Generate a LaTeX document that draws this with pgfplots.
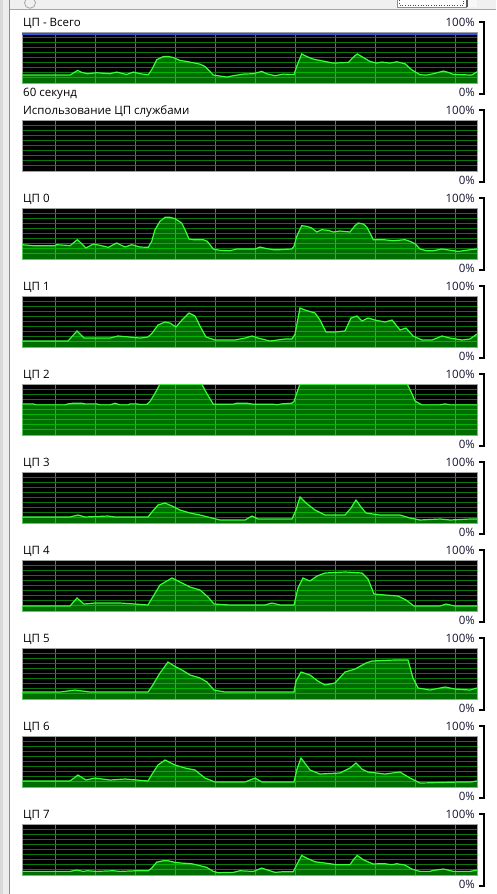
\documentclass[border=0pt]{standalone}
\usepackage{pgfplots}
\pgfplotsset{compat=1.18}
\usepackage{pgfplotstable}
\usepackage{fontspec}
\setmainfont{Open Sans}
\definecolor{gridh}{RGB}{10,120,10}
\definecolor{gridv}{RGB}{22,165,22}
\definecolor{fillg}{RGB}{0,255,0}
\definecolor{lineg}{RGB}{55,255,55}
\definecolor{frame}{RGB}{160,160,160}
\definecolor{blueline}{RGB}{50,85,220}
\definecolor{pctc}{RGB}{20,20,50}

\pgfplotstableread{
x y
22 15.6
70 15.6
77.7 24.7
81.7 20.8
87.3 18.2
96.7 20.1
110 18.2
116.7 21.4
123.3 18.2
126.7 16.9
133.3 21.4
140 18.2
148.3 16.2
151.7 26
156.7 45.5
163.3 51.9
168.3 51.9
173.3 50
180 44.2
186.7 42.2
200 37
205 32.5
208.3 26
213.3 15.6
226.7 11.7
233.3 14.3
243.3 17.5
253.3 18.2
261.7 22.7
266.7 18.2
275 14.3
283.3 17.5
290 16.9
294 16.9
296.7 32.5
301.7 57.1
306.7 51.9
313.3 46.8
320 44.2
333.3 39
348.3 40.3
353.3 50.6
357.3 57.1
363.3 50
370 42.2
376.7 39
381.7 41
390 39
396.7 41.6
405 37.7
411.7 26
420 16.2
426.7 15.6
433.3 18.2
443.3 23.4
448.3 20.8
453.3 16.9
471.7 15.6
477 22
}\ttotal

\pgfplotstableread{
x y
22 28.1
33.3 26.1
55 26.1
56.7 28.1
66.7 26.8
70 26.1
77.3 37.9
81.7 30.1
86 21.6
93.3 29.4
100 26.8
108.3 22.9
116.7 31.4
125 23.5
131.7 28.1
140 23.5
148.3 22.9
151.7 34.6
155 57.5
160 73.9
165 81.7
170 81.7
175 79.1
181.7 70.6
185 57.5
189 39.2
193.3 37.9
203.3 37.9
207.3 34.6
213.3 19.6
220 17
230 16.3
236.7 19.6
255 19.6
260 23.5
266.7 20.3
273.3 18.3
280 18.3
291.7 19.6
294 24.8
296.7 44.4
301.7 65.4
306.7 64
311.7 60.8
316.7 52.9
321.7 57.5
328.3 56.2
333.3 52.9
340 54.9
350 52.9
355 65.4
358.3 70.6
363.3 68.6
366.7 62.7
370 51
373.3 37.9
383.3 37.9
393.3 35.9
405 37.9
410 34.6
415 30.1
420 19.6
426.7 16.3
433.3 16.3
441.7 19.6
446.7 18.3
453.3 16.3
458.3 15
463.3 16.3
470 18.3
477 19.6
}\tcpua

\pgfplotstableread{
x y
22 11.8
68 11.8
77 31.4
84 17.6
110 17.6
118 21.6
140 17.6
148 19.6
152 27
158 43.1
165 49
170 47
176 39.2
182 52.9
189 66.7
195 60.8
200 41
206 19.6
215 13.7
235 13.7
245 17.6
252 21.6
258 17.6
270 11.8
285 15.7
292 15.7
295 25
300 76.5
305 72.5
315 66.7
320 52.9
326 29.4
335 29.4
345 31.4
351 56.9
357 60.8
362 51
368 56.9
375 52.9
385 49
392 52.9
400 33.3
406 37.3
413 21.6
422 13.7
432 13.7
442 21.6
450 17.6
462 13.7
470 15.7
477 25.5
}\tcpub

\pgfplotstableread{
x y
22 61
33.3 61
36 59.1
65 59.1
68 61
73.3 62.3
81.7 62.3
85 61
96.7 61
100 59.1
110 59.1
115 62.3
120 59.1
128.3 59.1
130 61
136.7 61
140 59.7
146.7 59.7
150 65.6
155 81.8
160 100
201.7 100
206.7 81.8
213.3 60.4
233.3 60.4
236.7 62.3
246.7 62.3
253.3 60.4
273.3 60.4
276.7 59.1
281.7 61
291.7 62.3
294 65.6
296.7 81.8
300 100
407.3 100
411.7 81.8
415 66.9
421.7 59.1
440 59.1
445 61
450 59.1
477 59.1
}\tcpuc

\pgfplotstableread{
x y
22 11.8
70 11.8
78 15.7
85 11.8
108 13.7
115 11.8
148 11.8
152 21.6
158 35.3
165 39.2
172 33.3
180 25.5
190 19.6
200 15.7
212 9.8
220 5.9
245 5.9
252 13.7
258 7.8
292 7.8
296 25.5
300 51
306 39.2
315 25.5
325 15.7
345 15.7
351 29.4
356 45.1
361 31.4
366 19.6
380 15.7
400 15.7
410 9.8
420 5.9
440 7.8
450 5.9
470 7.8
477 7.8
}\tcpud

\pgfplotstableread{
x y
22 9.8
70 9.8
77 25.5
84 13.7
95 15.7
120 15.7
135 13.7
148 11.8
152 25
160 51
172 64.7
180 56.9
190 47
200 41.2
208 27.5
214 13.7
230 11.8
265 11.8
272 15.7
280 11.8
294 11.8
298 45
303 64.7
310 58.8
317 68.6
325 74.5
345 76.5
362 74.5
368 62.7
374 33.3
385 31.4
398 29.4
406 21.6
414 9.8
440 9.8
446 13.7
455 9.8
477 9.8
}\tcpue

\pgfplotstableread{
x y
22 13.7
60 13.7
75 17.6
90 13.7
148 13.7
152 25
160 51
168 72.5
176 62.7
182 56.9
190 47.1
200 41.2
207 33.3
214 17.6
225 13.7
294 13.7
296 35
301 52.9
310 47.1
318 35
325 27.5
335 31.4
345 52.9
355 58.8
366 70.6
372 74.5
395 76.5
408 76.5
413 41
418 21.6
430 17.6
445 23.5
455 19.6
470 17.6
477 21.6
}\tcpuf

\pgfplotstableread{
x y
22 11.8
70 11.8
78 23.5
86 13.7
95 17.6
110 13.7
125 15.7
148 11.8
152 25
158 43.1
165 52.9
175 43.1
185 37.3
195 33.3
205 17.6
215 9.8
245 9.8
255 17.6
262 9.8
294 9.8
297 35
301 56.9
310 33.3
320 25.5
340 27.5
350 37.3
356 47.1
362 35
368 29.4
385 25.5
400 29.4
410 17.6
420 7.8
460 9.8
470 9.8
477 11.8
}\tcpug

\pgfplotstableread{
x y
22 7.1
70 7.1
76.7 9.7
83.3 7.1
87.3 8.4
96.7 7.1
113.3 8.4
120 7.1
136.7 8.4
148.3 8.4
151.7 13.6
156.7 25.3
163.3 27.9
168.3 27.9
175 24.7
181.7 23.4
191.7 22.1
200 18.2
206.7 14.9
213.3 7.1
218.3 4.5
233.3 5.2
240 8.4
253.3 7.1
261.7 13.6
266.7 10.4
275 5.2
283.3 6.5
293.3 6.5
296.7 20.1
301.7 38.3
306.7 33.1
315 26
330 22.1
336.7 20.1
350 20.1
353.3 29.9
357.3 38.3
363.3 29.9
373.3 21.4
378.3 22.1
385 22.1
391.7 20.1
396.7 22.1
405 19.5
411.7 11.7
420 7.1
430 7.1
433.3 9.1
443.3 11.7
448.3 9.7
453.3 7.1
470 7.1
477 9.7
}\tcpuh

\pgfplotsset{
  panel/.style={
    anchor=south west,
    width=455pt, height=51pt, scale only axis,
    xmin=22, xmax=477, ymin=0, ymax=100,
    axis background/.style={fill=black},
    axis line style={draw=frame, line width=1pt},
    xtick={55.5,95.7,135.7,175.7,215.7,255.7,295.7,335.7,375.7,415.7,455.7},
    ytick={10,20,30,40,50,60,70,80,90},
    xticklabels={}, yticklabels={},
    major tick length=0pt,
    grid=major,
    x grid style={color=gridv, line width=1pt},
    y grid style={color=gridh, line width=1pt},
  },
}

\newcommand\series[1]{%
  \addplot[draw=none, fill=fillg, fill opacity=0.43] table[x=x,y=y] {#1} \closedcycle;
  \addplot[color=lineg, line width=1.2pt] table[x=x,y=y] {#1};
}

\newcommand\panel[3]{%
  \begin{axis}[panel, at={(22pt,{(-83-88*#1)*1pt})}]
    #3
  \end{axis}
  \begin{scope}[x=1pt,y=1pt]
    \node[anchor=base west, inner sep=0pt, text=black] at (23,{-26-88*#1}) {#2};
    \node[anchor=base east, inner sep=0pt, text=pctc] at (475,{-26-88*#1}) {100\%};
    \node[anchor=base east, inner sep=0pt, text=pctc] at (475,{-96.5-88*#1}) {0\%};
    \draw[line width=1.1pt] (479,{-22-88*#1}) -- (484,{-22-88*#1}) -- (484,{-94-88*#1}) -- (479,{-94-88*#1});
  \end{scope}
}

\begin{document}
\fontsize{11.5pt}{13pt}\selectfont
\begin{tikzpicture}
\begin{scope}[x=1pt,y=1pt]
  \useasboundingbox (0,0) rectangle (496,-894);
  \fill[white] (0,0) rectangle (496,-894);
  % left strip
  \fill[black!15] (0,0) rectangle (3.3,-894);
  \fill[black!7] (3.3,0) rectangle (9.2,-894);
  \draw[black!45, line width=1.2pt] (9.8,0) -- (9.8,-894);
  % header
  \fill[black!6] (10.4,0) rectangle (496,-9.3);
  \draw[black!35, line width=1pt] (10.4,-9.6) -- (496,-9.6);
  \begin{scope}
    \clip (10.4,0) rectangle (60,-9);
    \draw[black!35, line width=0.8pt] (30,-2.8) circle (5.5);
  \end{scope}
  \fill[white] (397,0) rectangle (466,-7);
  \draw[black!45, line width=0.8pt] (397,0) -- (397,-7) -- (466,-7) -- (466,0);
  \draw[black!70, dotted, line width=0.6pt] (399.5,0) -- (399.5,-5) -- (463.5,-5) -- (463.5,0);
  \fill[black!65] (466,0) rectangle (468,-7);
  \fill[black!3] (468,0) rectangle (477,-7);
\end{scope}

\panel{0}{ЦП - Всего}{%
  \series{\ttotal}
  \addplot[color=blueline, line width=2.4pt] coordinates {(22,96.6) (477,96.6)};
}
\begin{scope}[x=1pt,y=1pt]
  \node[anchor=base west, inner sep=0pt] at (23,-96.5) {60 секунд};
\end{scope}
\panel{1}{Использование ЦП службами}{}
\panel{2}{ЦП 0}{\series{\tcpua}}
\panel{3}{ЦП 1}{\series{\tcpub}}
\panel{4}{ЦП 2}{\series{\tcpuc}}
\panel{5}{ЦП 3}{\series{\tcpud}}
\panel{6}{ЦП 4}{\series{\tcpue}}
\panel{7}{ЦП 5}{\series{\tcpuf}}
\panel{8}{ЦП 6}{\series{\tcpug}}
\panel{9}{ЦП 7}{\series{\tcpuh}}
\end{tikzpicture}
\end{document}
